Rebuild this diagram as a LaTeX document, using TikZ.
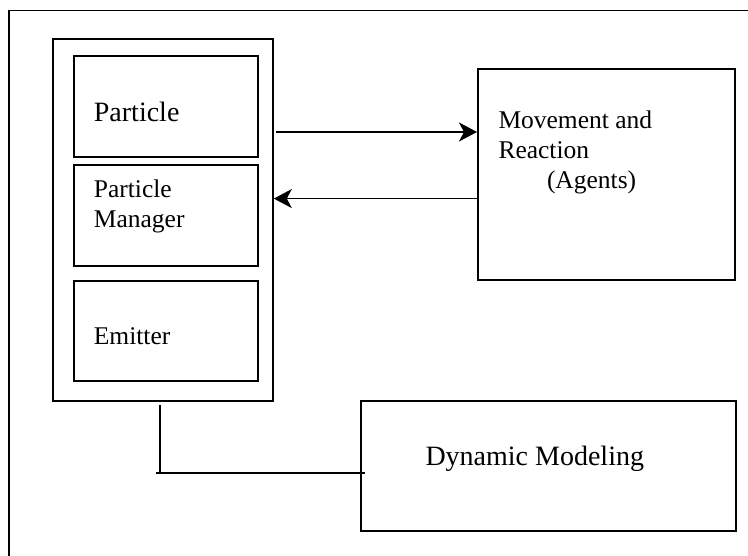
\documentclass[tikz,border=0pt]{standalone}
\usepackage{fontspec}
\setmainfont{Liberation Serif}
\usetikzlibrary{arrows.meta}

\begin{document}
\begin{tikzpicture}[x=1pt, y=-1pt, line width=1.8pt,
  box/.style={draw, rectangle, inner sep=0pt, anchor=north west},
  lbl/.style={anchor=west, inner sep=0pt, align=left, font=\fontsize{25.5}{31}\selectfont},
  big/.style={lbl, font=\fontsize{28}{34}\selectfont},
  arr/.style={-{Stealth[length=18pt, width=19pt, inset=5pt]}}]
\useasboundingbox (0,0) rectangle (748,556);
\clip (0,0) rectangle (748,556);
\draw (8.6,10.6) rectangle (770,580);
% left column
\node[box, minimum width=220pt, minimum height=362pt] (cont) at (52,38.5) {};
\node[box, minimum width=184pt, minimum height=101pt] (part) at (73,55) {};
\node[box, minimum width=184pt, minimum height=101pt] (pman) at (73,164) {};
\node[box, minimum width=184pt, minimum height=100pt] (emit) at (73,280) {};
\node[big] (partlbl) at (93,112) {Particle};
\node[lbl] (pmanlbl) at (93,206) {Particle\\[-1pt]Manager};
\node[lbl] (emitlbl) at (93,336) {Emitter};
% right side
\node[box, minimum width=257pt, minimum height=211pt] (move) at (477,68) {};
\node[lbl] (movelbl) at (497.6,152) {Movement and\\[-1pt]Reaction\\[-1pt]\hspace*{48.5pt}(Agents)};
\node[box, minimum width=375pt, minimum height=130pt] (dyn) at (360,400) {};
\node[big] (dynlbl) at (424.6,459) {Dynamic Modeling};
\coordinate (ytop) at (0,132);
\coordinate (ybot) at (0,198.6);
\coordinate (j) at (160,473);
\draw[arr] ([xshift=2pt]cont.east |- ytop) -- (move.west |- ytop);
\draw[arr] (move.west |- ybot) -- (cont.east |- ybot);
\draw ([yshift=-3pt]cont.south -| j) -- (j);
\draw ([xshift=-4pt]j) -- ([xshift=5pt]dyn.west |- j);
\end{tikzpicture}
\end{document}
